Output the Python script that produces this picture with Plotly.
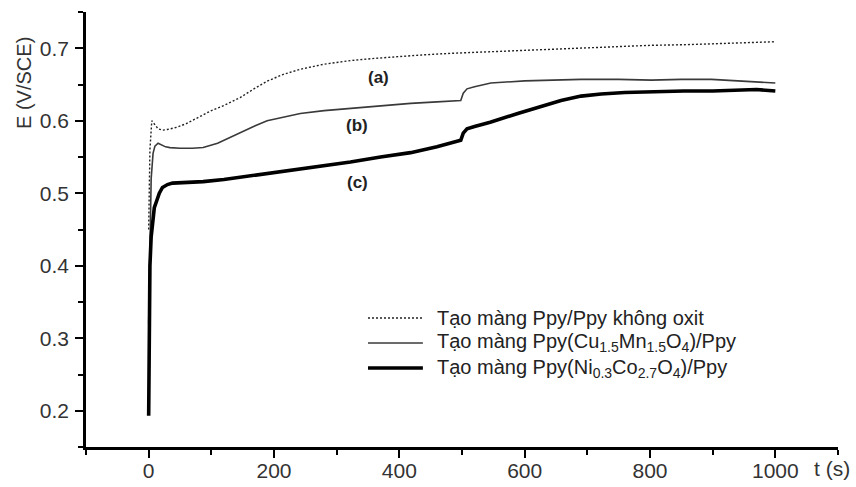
import plotly.graph_objects as go

# ---- data ----
t_a = [0, 2, 5, 10, 15, 22, 30, 45, 60, 80, 100, 120, 146, 170, 190, 215, 242, 280, 322,
       360, 400, 440, 482, 540, 600, 660, 700, 760, 800, 860, 900, 950, 1000]
E_a = [0.45, 0.56, 0.600, 0.594, 0.589, 0.587, 0.588, 0.591, 0.596, 0.605, 0.614, 0.621,
       0.632, 0.645, 0.655, 0.664, 0.671, 0.678, 0.683, 0.686, 0.689, 0.691, 0.693, 0.695,
       0.697, 0.699, 0.700, 0.702, 0.704, 0.705, 0.706, 0.707, 0.709]

t_b = [0, 2, 4, 7, 10, 15, 20, 27, 34, 50, 70, 87, 110, 130, 146, 170, 189, 215, 242, 280,
       322, 370, 418, 460, 498, 502, 508, 520, 546, 600, 690, 750, 802, 850, 898, 940, 978, 1000]
E_b = [0.32, 0.45, 0.52, 0.555, 0.565, 0.569, 0.567, 0.564, 0.563, 0.562, 0.562, 0.563,
       0.569, 0.577, 0.584, 0.593, 0.600, 0.605, 0.610, 0.614, 0.617, 0.621, 0.624, 0.626,
       0.628, 0.638, 0.644, 0.647, 0.652, 0.655, 0.657, 0.657, 0.656, 0.657, 0.657, 0.655,
       0.653, 0.652]

t_c = [0, 1, 2, 4, 6, 9, 13, 17, 22, 30, 38, 60, 87, 120, 146, 180, 214, 260, 322, 370,
       418, 460, 498, 502, 508, 520, 545, 589, 630, 658, 690, 722, 760, 800, 854, 900, 950,
       970, 1000]
E_c = [0.193, 0.32, 0.40, 0.44, 0.46, 0.48, 0.49, 0.50, 0.508, 0.512, 0.514, 0.515, 0.516,
       0.519, 0.522, 0.526, 0.531, 0.536, 0.543, 0.550, 0.556, 0.564, 0.573, 0.583, 0.589,
       0.592, 0.598, 0.610, 0.620, 0.628, 0.634, 0.637, 0.639, 0.640, 0.641, 0.641, 0.642,
       0.643, 0.641]

series_names = [
    "Tạo màng Ppy/Ppy không oxit",
    "Tạo màng Ppy(Cu<sub>1.5</sub>Mn<sub>1.5</sub>O<sub>4</sub>)/Ppy",
    "Tạo màng Ppy(Ni<sub>0.3</sub>Co<sub>2.7</sub>O<sub>4</sub>)/Ppy",
]
curve_labels = ["(a)", "(b)", "(c)"]
label_pos_t = [366, 332, 334]
label_pos_E = [0.660, 0.594, 0.5155]

x_ticks = [0, 200, 400, 600, 800, 1000]
y_ticks = [0.2, 0.3, 0.4, 0.5, 0.6, 0.7]

FONT = "Liberation Sans, Arial, sans-serif"
line_styles = [
    dict(color="#222222", width=1.4, dash="2px,2px"),
    dict(color="#3a3a3a", width=1.6),
    dict(color="#000000", width=3.6),
]

fig = go.Figure()
for tt, ee, name, ls in zip([t_a, t_b, t_c], [E_a, E_b, E_c], series_names, line_styles):
    fig.add_trace(go.Scatter(x=tt, y=ee, mode="lines", name=name, line=ls,
                             showlegend=False))

# curve labels
for lab, xx, yy in zip(curve_labels, label_pos_t, label_pos_E):
    fig.add_annotation(x=xx, y=yy, xref="x", yref="y", text="<b>%s</b>" % lab,
                       showarrow=False, font=dict(family=FONT, size=17, color="#222"))

# manual legend (line samples + text)
leg_rows = [0.2966, 0.2391, 0.1816]
for yy, name, ls in zip(leg_rows, series_names, line_styles):
    fig.add_shape(type="line", xref="paper", yref="paper", x0=0.375, x1=0.448,
                  y0=yy, y1=yy, line=ls)
    fig.add_annotation(x=0.464, y=yy, xref="paper", yref="paper", text=name,
                       showarrow=False, xanchor="left", yanchor="middle",
                       font=dict(family=FONT, size=20, color="#222"))

# axis titles
fig.add_annotation(x=-0.0824, y=0.837, xref="paper", yref="paper", text="E (V/SCE)",
                   textangle=-90, showarrow=False, xanchor="center", yanchor="middle",
                   font=dict(family=FONT, size=20, color="#333"))
fig.add_annotation(x=0.992, y=-0.050, xref="paper", yref="paper", text="t (s)",
                   showarrow=False, xanchor="center", yanchor="middle",
                   font=dict(family=FONT, size=21, color="#333"))

axis_common = dict(showgrid=False, zeroline=False, showline=True, linecolor="black",
                   linewidth=2.5, ticks="outside", ticklen=8, tickwidth=2,
                   tickcolor="black", tickfont=dict(family=FONT, size=21, color="#333"),
                   mirror=False, automargin=False)

fig.update_xaxes(range=[-100, 1100], tickvals=x_ticks, ticklabelstandoff=-5,
                 minor=dict(dtick=100, tick0=0, ticks="outside", ticklen=5,
                            tickwidth=2, tickcolor="black"),
                 **axis_common)
fig.update_yaxes(range=[0.15, 0.75], tickvals=y_ticks, ticktext=[f"{v:.1f}" for v in y_ticks],
                 ticklabelstandoff=2,
                 minor=dict(dtick=0.05, tick0=0.15, ticks="outside", ticklen=5,
                            tickwidth=2, tickcolor="black"),
                 **axis_common)

fig.update_layout(width=856, height=487, margin=dict(l=86, r=18, t=12, b=40),
                  paper_bgcolor="white", plot_bgcolor="white", showlegend=False)

fig.write_html("out.html")
